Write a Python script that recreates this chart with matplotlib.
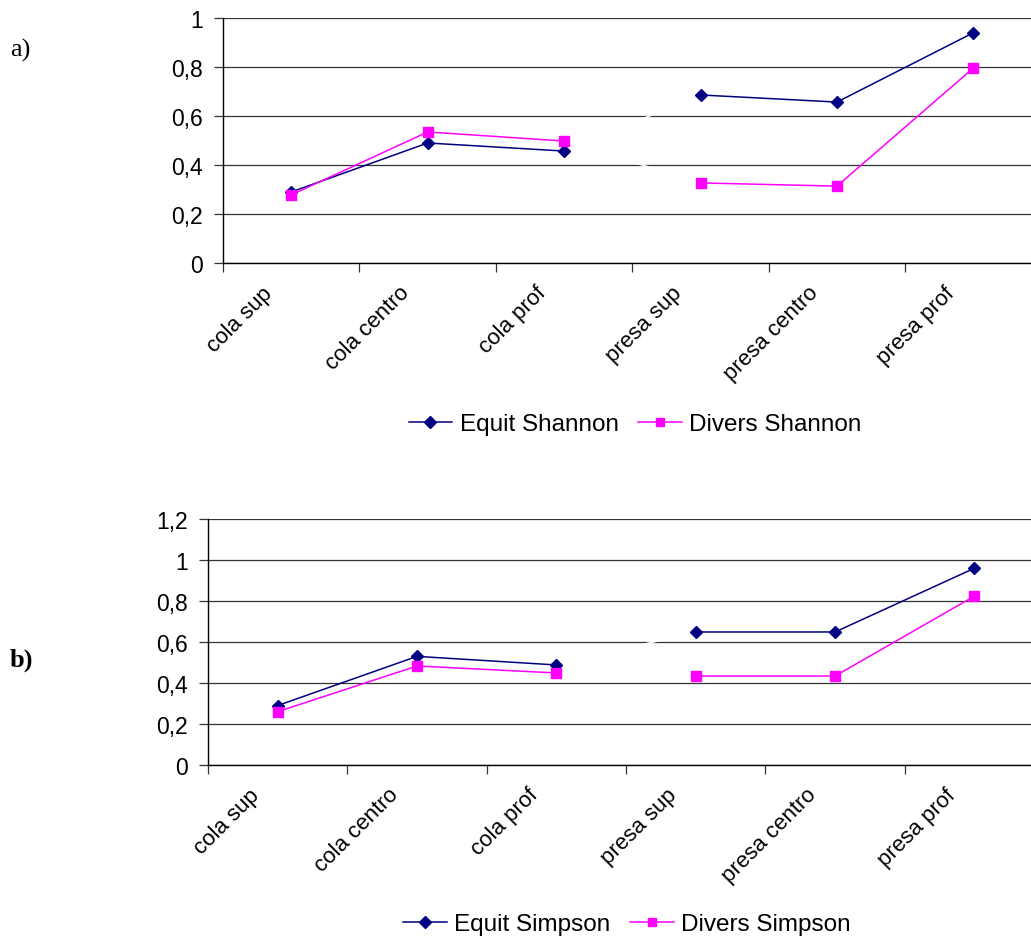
import matplotlib.pyplot as plt
import matplotlib.transforms as mtransforms
import numpy as np

plt.rcParams['font.family'] = ['Liberation Sans', 'DejaVu Sans']

sitios = ["cola sup", "cola centro", "cola prof", "presa sup", "presa centro", "presa prof"]

equit_shannon = [0.29, 0.49, 0.457, 0.686, 0.657, 0.94]
divers_shannon = [0.278, 0.535, 0.498, 0.327, 0.314, 0.796]

equit_simpson = [0.29, 0.53, 0.488, 0.649, 0.649, 0.96]
divers_simpson = [0.26, 0.483, 0.449, 0.434, 0.434, 0.824]

NAVY = "#000080"
MAGENTA = "#FF00FF"


def panel(ax, equit, divers, names, ymax, yticklabels):
    x = np.arange(len(sitios))
    cola = slice(0, 3)
    presa = slice(3, 6)
    # blank link between the two reservoir zones
    for serie in (equit, divers):
        ax.plot(x[2:4], serie[2:4], color="white", lw=1.2, zorder=2)
    for part in (cola, presa):
        ax.plot(x[part], equit[part], color=NAVY, lw=1.1, marker="D", ms=6.5,
                zorder=3)
        ax.plot(x[part], divers[part], color=MAGENTA, lw=1.1, marker="s", ms=6.5,
                zorder=3)
    ax.plot([], [], color=NAVY, lw=1.1, marker="D", ms=6, label=names[0])
    ax.plot([], [], color=MAGENTA, lw=1.1, marker="s", ms=6, label=names[1])

    ax.set_xlim(-0.5, len(sitios) - 0.5)
    ax.set_ylim(0, ymax)
    yt = np.arange(0, ymax + 0.01, 0.2)
    ax.set_yticks(yt)
    ax.set_yticklabels(yticklabels, fontsize=16.5)
    ax.tick_params(axis="y", pad=8)
    ax.yaxis.grid(True, color="#333333", lw=0.9)
    ax.set_axisbelow(True)

    ax.set_xticks(np.arange(-0.5, len(sitios) - 0.4, 1.0))
    ax.set_xticklabels([])
    ax.tick_params(axis="both", which="major", length=6.5, width=0.9,
                   color="#333333", direction="out")

    # category names, rotated under each point
    offset = mtransforms.ScaledTranslation(-29 / 100, -19 / 100, fig.dpi_scale_trans)
    for i, name in enumerate(sitios):
        ax.text(i, 0, name, transform=ax.get_xaxis_transform() + offset,
                rotation=45, rotation_mode="anchor", ha="right", va="top",
                fontsize=16)

    for side in ("top", "right"):
        ax.spines[side].set_visible(False)
    for side in ("left", "bottom"):
        ax.spines[side].set_linewidth(1.0)
        ax.spines[side].set_color("black")


fig = plt.figure(figsize=(10.31, 9.37), dpi=100)

ax1 = fig.add_axes([0.2163, 0.7182, 0.794, 0.2615])
panel(ax1, equit_shannon, divers_shannon, ["Equit Shannon", "Divers Shannon"],
      1.0, ["0", "0,2", "0,4", "0,6", "0,8", "1"])
ax1.legend(loc="center", bbox_to_anchor=(635 / 1031, 1 - 425 / 937),
           bbox_transform=fig.transFigure, ncol=2, frameon=False,
           fontsize=17.5, handlelength=1.8, columnspacing=0.8, handletextpad=0.3)

ax2 = fig.add_axes([0.2017, 0.1825, 0.811, 0.2625])
panel(ax2, equit_simpson, divers_simpson, ["Equit Simpson", "Divers Simpson"],
      1.2, ["0", "0,2", "0,4", "0,6", "0,8", "1", "1,2"])
ax2.legend(loc="center", bbox_to_anchor=(627 / 1031, 1 - 925 / 937),
           bbox_transform=fig.transFigure, ncol=2, frameon=False,
           fontsize=17.5, handlelength=1.8, columnspacing=0.8, handletextpad=0.3)

fig.text(10 / 1031, 1 - 50 / 937, "a)", fontsize=19, family="Liberation Serif",
         va="center")
fig.text(10 / 1031, 1 - 660 / 937, "b)", fontsize=19, family="Liberation Serif",
         fontweight="bold", va="center")

fig.savefig("out.png", dpi=100)
